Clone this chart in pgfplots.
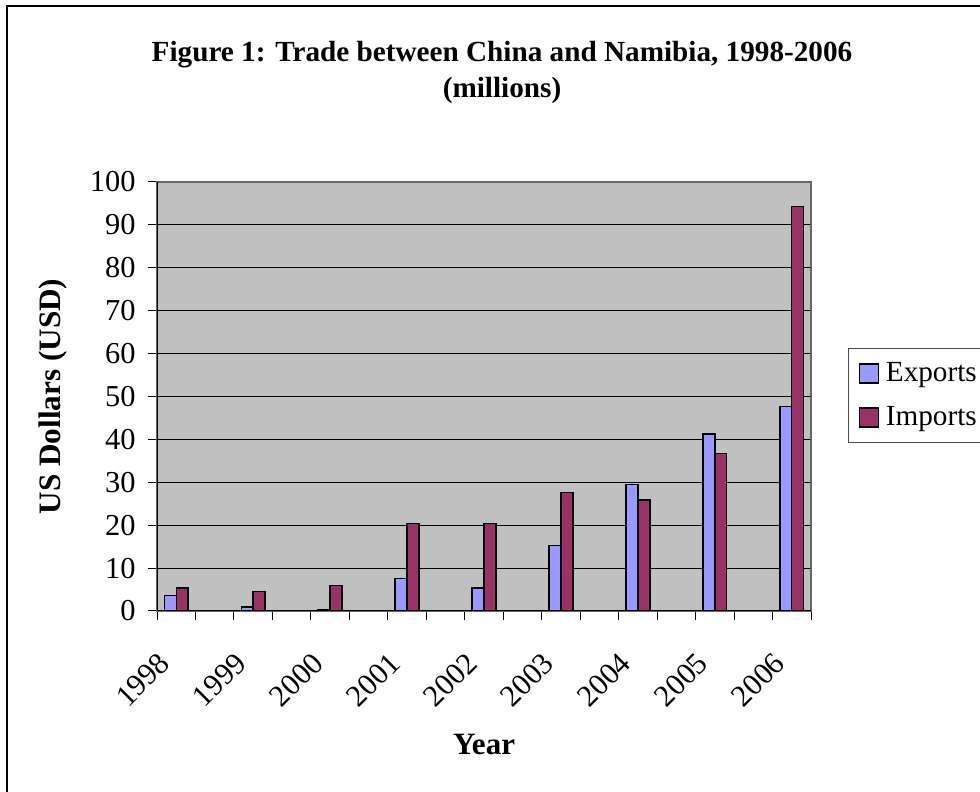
\documentclass[border=0pt]{standalone}
\usepackage{pgfplots}
\pgfplotsset{compat=1.18}
\usepackage{fontspec}
\setmainfont{Liberation Serif}

\definecolor{plotbg}{HTML}{C0C0C0}
\definecolor{expcol}{HTML}{9999FF}
\definecolor{impcol}{HTML}{993366}

\begin{document}
\begin{tikzpicture}
% page is 980x792 px at 0.5pt per px
\path[use as bounding box] (0,0) rectangle (490pt,396pt);
\draw[line width=1pt] (3.5pt,-20pt) -- (3.5pt,393pt) -- (520pt,393pt);

\node[font=\fontsize{14.6}{18}\selectfont\bfseries, align=center] at (251pt,360pt)
  {Figure 1: Trade between China and Namibia, 1998-2006\\(millions)};

\begin{axis}[%
  at={(78.5pt,90.5pt)}, anchor=south west,
  scale only axis, width=327pt, height=214.5pt,
  ybar=0pt, bar width=0.31,
  xmin=-0.5, xmax=16.5,
  ymin=0, ymax=100, ytick={0,10,...,100},
  axis background/.style={fill=plotbg},
  axis line style={draw=gray!80!black, line width=0.6pt},
  ymajorgrids, grid style={black, line width=0.5pt},
  tick align=outside, ytick pos=left, xtick pos=left,
  major tick length=4.5pt, tick style={black, line width=0.5pt},
  xtick={0,2,...,16},
  xticklabels={1998,1999,2000,2001,2002,2003,2004,2005,2006},
  x tick style={draw=none},
  minor xtick={-0.5,0.5,...,16.5},
  minor tick length=4.5pt,
  minor x tick style={draw=black, line width=0.5pt},
  xticklabel style={xshift=-6pt, yshift=-19pt, rotate=45, anchor=east, inner sep=0pt},
  yticklabel style={inner sep=0pt, xshift=-6pt},
  ticklabel style={font=\fontsize{15.2}{18}\selectfont},
  /pgf/number format/assume math mode=true,
  ylabel={US Dollars (USD)},
  ylabel style={font=\fontsize{15.6}{18}\selectfont\bfseries, at={(axis description cs:0,0.5)}, anchor=center, yshift=52pt},
  xlabel={Year},
  xlabel style={font=\fontsize{15.5}{18}\selectfont\bfseries, at={(axis description cs:0.5,0)}, anchor=center, yshift=-67pt},
  legend style={at={(axis description cs:1.0566,0.613)}, anchor=north west,
    draw=black!70, line width=0.5pt, font=\fontsize{14.6}{18}\selectfont,
    row sep=7pt, inner xsep=5pt, inner ysep=5pt,
    /tikz/every odd column/.style={column sep=1.5pt}},
  legend cell align=left,
  legend image code/.code={\draw[#1, line width=0.7pt] (0pt,-4.75pt) rectangle (9.5pt,4.75pt);},
]
\addplot[fill=expcol, draw=black, line width=0.7pt] coordinates {
  (0,3.6) (2,0.9) (4,0.4) (6,7.6) (8,5.4) (10,15.3) (12,29.5) (14,41.3) (16,47.6)};
\addplot[fill=impcol, draw=black, line width=0.7pt] coordinates {
  (0,5.4) (2,4.5) (4,5.9) (6,20.4) (8,20.4) (10,27.6) (12,25.9) (14,36.7) (16,94.3)};
\legend{Exports, Imports}
\draw[black, line width=0.6pt] (rel axis cs:0,1) -- (rel axis cs:0,0) -- (rel axis cs:1,0);
\end{axis}
\end{tikzpicture}
\end{document}
